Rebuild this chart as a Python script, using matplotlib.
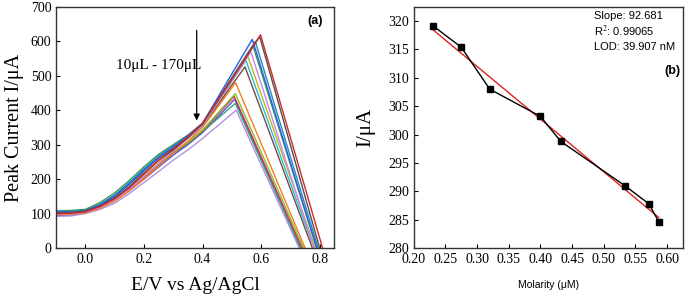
import numpy as np
import matplotlib
matplotlib.use('Agg')
import matplotlib.pyplot as plt

plt.rcParams['font.family'] = ['Liberation Serif', 'DejaVu Serif']
plt.rcParams['mathtext.fontset'] = 'stix'

# ---- panel (a): voltammograms ----
x_rise = [-0.1, -0.05, 0.0, 0.05, 0.1, 0.15, 0.2, 0.25, 0.3, 0.35, 0.4]

curve_colors = ['#b48ee0', '#4a55c8', '#3aa08a', '#d03050', '#8cbc30',
                '#f08020', '#7a4848', '#22c2d2', '#c8b020', '#c888e8',
                '#3a9a50', '#2f86c0', '#2860e0', '#505050', '#d02828']

curve_rise = [
    [92, 93, 100, 112, 130, 158, 190, 222, 255, 285, 318],
    [95, 97, 103, 117, 138, 168, 200, 235, 270, 300, 335],
    [100, 102, 106, 120, 142, 172, 205, 240, 275, 303, 338],
    [98, 100, 104, 118, 140, 170, 203, 240, 277, 305, 340],
    [102, 103, 107, 121, 143, 175, 210, 245, 280, 306, 342],
    [96, 98, 102, 115, 136, 165, 200, 238, 275, 310, 350],
    [104, 105, 108, 125, 150, 185, 225, 262, 290, 320, 355],
    [105, 106, 108, 126, 152, 188, 228, 265, 292, 322, 357],
    [100, 101, 105, 118, 140, 172, 210, 248, 285, 318, 355],
    [98, 100, 104, 118, 140, 170, 207, 245, 282, 318, 356],
    [108, 109, 112, 132, 160, 196, 236, 272, 300, 328, 362],
    [106, 107, 109, 127, 154, 190, 230, 267, 296, 326, 362],
    [103, 104, 108, 125, 150, 185, 225, 262, 292, 325, 362],
    [102, 103, 107, 122, 145, 178, 218, 255, 285, 320, 360],
    [100, 101, 105, 120, 143, 175, 215, 255, 288, 322, 362],
]
peak_x = [0.515, 0.51, 0.512, 0.508, 0.512, 0.513, 0.545, 0.548, 0.555, 0.565,
          0.572, 0.58, 0.57, 0.595, 0.598]
peak_y = [400, 432, 420, 440, 448, 480, 526, 545, 556, 570, 588, 600, 606, 614, 619]
zero_x = [0.73, 0.735, 0.735, 0.74, 0.745, 0.75, 0.775, 0.78, 0.785, 0.78,
          0.79, 0.795, 0.79, 0.80, 0.81]

# ---- panel (b): calibration ----
molarity = [0.23, 0.275, 0.32, 0.40, 0.432, 0.533, 0.571, 0.587]
current = [319.2, 315.4, 308.0, 303.2, 298.8, 291.0, 287.8, 284.6]

fig = plt.figure(figsize=(6.85, 3.02), dpi=100)
ax1 = fig.add_axes([0.082, 0.179, 0.406, 0.798])
ax2 = fig.add_axes([0.604, 0.179, 0.393, 0.798])

for i in range(len(curve_rise)):
    xs = x_rise + [peak_x[i], zero_x[i]]
    ys = curve_rise[i] + [peak_y[i], 0]
    ax1.plot(xs, ys, color=curve_colors[i], lw=1.0, solid_joinstyle='round')

ax1.set_xlim(-0.1, 0.85)
ax1.set_ylim(0, 700)
ax1.set_xticks([0.0, 0.2, 0.4, 0.6, 0.8])
ax1.set_yticks(range(0, 701, 100))
ax1.set_xlabel('E/V vs Ag/AgCl', fontsize=14, labelpad=8)
ax1.set_ylabel('Peak Current I/μA', fontsize=14.5, labelpad=5)
ax1.annotate('', xy=(0.38, 362), xytext=(0.38, 640),
             arrowprops=dict(arrowstyle='-|>', color='black', lw=0.9,
                             mutation_scale=9))
ax1.text(0.105, 530, '10μL - 170μL', fontsize=11, va='center', ha='left')
ax1.text(0.81, 660, '(a)', fontsize=9, fontweight='bold', ha='right',
         va='center', family='Liberation Sans')

fit = np.polyfit(molarity, current, 1)
fit_x = np.array([molarity[0], molarity[-1]])
ax2.plot(fit_x, np.polyval(fit, fit_x), color='#e02020', lw=1.0)
ax2.plot(molarity, current, color='black', lw=1.0, marker='s', markersize=4.5)

ax2.set_xlim(0.2, 0.625)
ax2.set_ylim(280, 322.5)
ax2.set_xticks(np.arange(0.20, 0.61, 0.05))
ax2.set_xticklabels(['%.2f' % v for v in np.arange(0.20, 0.61, 0.05)])
ax2.set_yticks(range(280, 321, 5))
ax2.set_xlabel('Molarity (μM)', fontsize=7.5, family='Liberation Sans', labelpad=10)
ax2.set_ylabel('I/μA', fontsize=15, labelpad=9)
ax2.text(0.668, 0.985, 'Slope: 92.681\nR$^2$: 0.99065\nLOD: 39.907 nM',
         transform=ax2.transAxes, fontsize=8, va='top', ha='left',
         family='Liberation Sans', linespacing=1.3)
ax2.text(0.99, 0.735, '(b)', transform=ax2.transAxes, fontsize=9,
         fontweight='bold', ha='right', va='center', family='Liberation Sans')

for ax in (ax1, ax2):
    ax.tick_params(direction='in', labelsize=10, length=3, width=0.8)
    for s in ax.spines.values():
        s.set_linewidth(1.0)
        s.set_color('#333333')

fig.savefig('out.png', dpi=100)
